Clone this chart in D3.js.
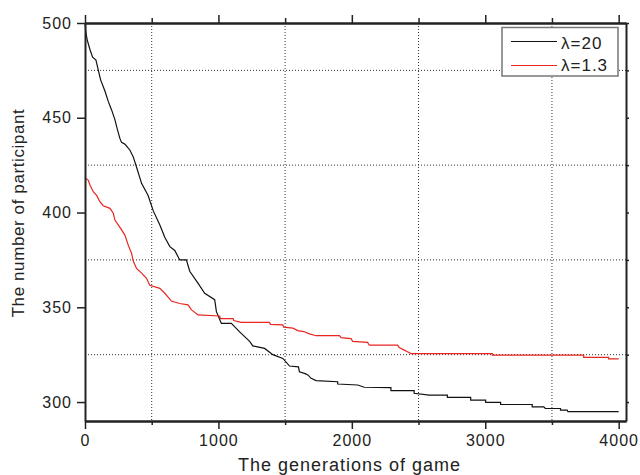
<!DOCTYPE html>
<html>
<head>
<meta charset="utf-8">
<script src="https://cdn.jsdelivr.net/npm/d3@7"></script>
<style>
  body { margin: 0; background: #fff; }
  svg { display: block; font-family: "Liberation Sans", Arial, sans-serif; }
  .axis text { font-size: 16px; letter-spacing: 1px; fill: #222; }
  .axis path, .axis line { stroke: #222; }
  .grid line { stroke: #333; stroke-dasharray: 1,2; }
</style>
</head>
<body>
<svg id="chart"></svg>
<script>
// generations / participant counts
const lambda20 = [
  [0,500],[7,494.6],[17,491],[37,486],[57,482],[82,480.5],[100,475],[117,470],
  [150,464],[175,458.5],[200,454],[224,449],[242,444],[262,439],[274,437],[300,436],
  [336,433],[361,429.5],[386,424],[424,415.4],[473,409],[511,401],[561,393.4],
  [598,387],[636,382],[673,380],[710,375],[760,375],[785,369],[848,362.6],
  [897,357.4],[972,354],[985,347.7],[1022,341.5],[1097,341.5],[1159,337],
  [1234,332],[1258,329.6],[1346,328.3],[1408,325],[1483,323],[1533,319],
  [1600,318.6],[1607,316],[1650,315],[1670,314.3],[1695,312.5],[1732,311.3],
  [1894,310.7],[1894,309.5],[2044,309],[2094,307.8],[2293,307.6],[2293,306],
  [2467,306],[2467,304.6],[2580,303.7],[2716,303.7],[2716,302.5],[2891,302.5],
  [2891,301],[3003,301],[3003,299.8],[3115,299.8],[3115,298.7],[3352,298.7],
  [3352,297.5],[3439,297.5],[3450,296.6],[3564,296.6],[3564,295.7],[3614,295.7],
  [3620,294.9],[4000,294.9]
];
const lambda13 = [
  [0,418.4],[25,417],[37,414.5],[62,411],[87,409],[112,405.7],[137,403.6],
  [187,402.2],[212,399.6],[224,396],[262,392.2],[299,388.1],[324,382.8],
  [349,378.5],[361,374.5],[386,370.5],[424,368],[461,365.3],[486,361.6],
  [561,360],[598,357.4],[648,353.3],[710,352],[772,351.3],[798,348.6],[848,346],
  [1009,345.4],[1015,344],[1110,344],[1115,343],[1171,342],[1383,342],[1390,341],
  [1483,340.7],[1490,339.5],[1558,339],[1595,337.7],[1640,337.2],[1682,336],
  [1732,335],[1907,335],[1919,334],[1994,333.5],[2006,332],[2118,331.5],
  [2131,330],[2343,330],[2355,328.8],[2393,327.4],[2417,326.5],[2443,325.6],
  [3053,325.6],[3053,324.8],[3738,324.8],[3738,323.6],[3925,323.6],[3925,322.8],
  [4000,322.8]
];
const xMajor = [0, 1000, 2000, 3000, 4000];
const xMinor = [500, 1500, 2500, 3500];
const yMajor = [300, 350, 400, 450, 500];
const yMinor = [325, 375, 425, 475];
const seriesNames = ['\u03bb=20', '\u03bb=1.3'];
const seriesColors = ['#111', '#e8261f'];

const W = 640, H = 475;
const margin = {top: 23, right: 14, bottom: 54, left: 85};
const w = W - margin.left - margin.right;
const h = H - margin.top - margin.bottom;

let svg = d3.select('#chart').attr('width', W).attr('height', H);
let g = svg.append('g').attr('transform', 'translate(' + margin.left + ',' + margin.top + ')');

let x = d3.scaleLinear().domain([0, 4055]).range([0, w]);
let y = d3.scaleLinear().domain([290, 500]).range([h, 0]);
const fmt = d3.format('d');

// dotted grid on the minor positions
let grid = g.append('g').attr('class', 'grid');
grid.selectAll('line.gx').data(xMinor).enter().append('line')
  .attr('x1', d => x(d)).attr('x2', d => x(d)).attr('y1', 0).attr('y2', h);
grid.selectAll('line.gy').data(yMinor).enter().append('line')
  .attr('x1', 0).attr('x2', w).attr('y1', d => y(d)).attr('y2', d => y(d));

// curves
let line = d3.line().x(d => x(d[0])).y(d => y(d[1]));
[lambda20, lambda13].forEach((s, i) => {
  g.append('path').datum(s)
    .attr('d', line)
    .attr('fill', 'none')
    .attr('stroke', seriesColors[i])
    .attr('stroke-width', 1.2);
});

// axes
function styleAxis(sel) {
  sel.attr('class', 'axis');
  sel.select('.domain').attr('stroke-width', 2);
  sel.selectAll('.tick line').attr('stroke-width', 1.5);
}
g.append('g').attr('transform', 'translate(0,' + h + ')')
  .call(d3.axisBottom(x).tickValues(xMajor).tickSize(8).tickSizeOuter(0).tickPadding(6).tickFormat(fmt))
  .call(styleAxis);
g.append('g').attr('transform', 'translate(0,' + h + ')')
  .call(d3.axisBottom(x).tickValues(xMinor).tickSize(4).tickSizeOuter(0).tickFormat(''))
  .call(styleAxis);
g.append('g')
  .call(d3.axisTop(x).tickValues(xMajor).tickSize(8).tickSizeOuter(0).tickFormat(''))
  .call(styleAxis);
g.append('g')
  .call(d3.axisTop(x).tickValues(xMinor).tickSize(5).tickSizeOuter(0).tickFormat(''))
  .call(styleAxis);
g.append('g')
  .call(d3.axisLeft(y).tickValues(yMajor).tickSize(8).tickSizeOuter(0).tickPadding(5).tickFormat(fmt))
  .call(styleAxis);
g.append('g').attr('transform', 'translate(' + w + ',0)')
  .call(d3.axisRight(y).tickValues(yMajor.concat(yMinor)).tickSize(3).tickSizeOuter(0).tickFormat(''))
  .call(styleAxis);

// axis titles
svg.append('text')
  .attr('x', margin.left + w / 2 - 6).attr('y', 471)
  .attr('text-anchor', 'middle')
  .style('font-size', '18px').style('letter-spacing', '1px').attr('fill', '#222')
  .text('The generations of game');
svg.append('text')
  .attr('transform', 'translate(24,' + 213 + ') rotate(-90)')
  .attr('text-anchor', 'middle')
  .style('font-size', '17px').style('letter-spacing', '0.6px').attr('fill', '#222')
  .text('The number of participant');

// legend
let lg = svg.append('g').attr('transform', 'translate(502,27.5)');
lg.append('rect').attr('width', 116).attr('height', 48.5)
  .attr('fill', '#fff').attr('stroke', '#777').attr('stroke-width', 1.5);
seriesNames.forEach((n, i) => {
  lg.append('line').attr('x1', 9).attr('x2', 55)
    .attr('y1', 14 + i * 24).attr('y2', 14 + i * 24)
    .attr('stroke', seriesColors[i]).attr('stroke-width', 1.2);
  lg.append('text').attr('x', 59).attr('y', 21.5 + i * 21.5)
    .style('font-size', '17px').style('letter-spacing', '1px').attr('fill', '#222')
    .text(n);
});
</script>
</body>
</html>
